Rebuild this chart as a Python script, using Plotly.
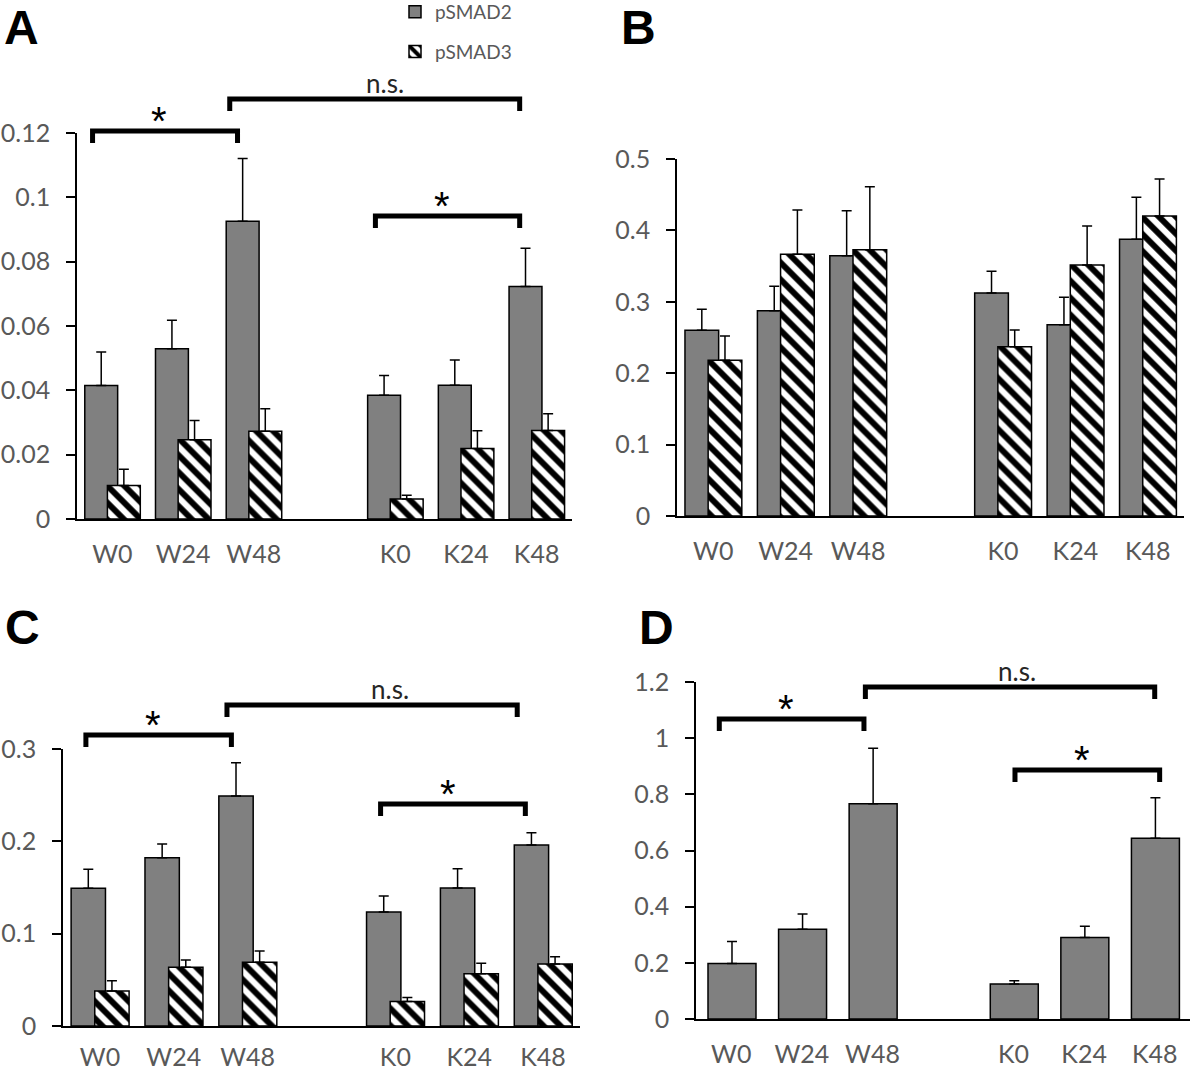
import plotly.graph_objects as go

W, H = 1200, 1073

# ---------------- data ----------------
categories = ["W0", "W24", "W48", "K0", "K24", "K48"]
x_pos = [0, 1, 2, 4, 5, 6]          # one empty slot between the W and K groups
series_names = ["pSMAD2", "pSMAD3"]

# Panel A
a_psmad2 = [0.0415, 0.0529, 0.0926, 0.0385, 0.0416, 0.0723]
a_psmad2_err = [0.0104, 0.0089, 0.0195, 0.0061, 0.0078, 0.0119]
a_psmad3 = [0.0104, 0.0246, 0.0273, 0.0062, 0.0219, 0.0275]
a_psmad3_err = [0.0051, 0.0060, 0.0070, 0.0012, 0.0055, 0.0052]

# Panel B
b_psmad2 = [0.260, 0.2876, 0.3646, 0.3123, 0.268, 0.3875]
b_psmad2_err = [0.0294, 0.0341, 0.0630, 0.0304, 0.0383, 0.0588]
b_psmad3 = [0.218, 0.3665, 0.373, 0.2372, 0.3515, 0.420]
b_psmad3_err = [0.0340, 0.0621, 0.0883, 0.0233, 0.0547, 0.0520]

# Panel C
c_psmad2 = [0.1491, 0.1823, 0.2491, 0.1235, 0.1495, 0.196]
c_psmad2_err = [0.0206, 0.0148, 0.0361, 0.0173, 0.0209, 0.0134]
c_psmad3 = [0.0379, 0.0635, 0.069, 0.0264, 0.0567, 0.0671]
c_psmad3_err = [0.0112, 0.0080, 0.0122, 0.0046, 0.0112, 0.0080]

# Panel D
d_vals = [0.1978, 0.3198, 0.7664, 0.1244, 0.2902, 0.6432]
d_err = [0.0782, 0.0545, 0.1978, 0.0118, 0.0403, 0.1445]

# tick values
y_ticks_a = [0, 0.02, 0.04, 0.06, 0.08, 0.1, 0.12]
y_ticks_b = [0, 0.1, 0.2, 0.3, 0.4, 0.5]
y_ticks_c = [0, 0.1, 0.2, 0.3]
y_ticks_d = [0, 0.2, 0.4, 0.6, 0.8, 1.0, 1.2]

# significance brackets: (left x, right x, bracket height, label, label x)
brackets_a = [(-0.28, 1.77, 0.1206, "*", 0.66),
              (1.66, 5.76, 0.1306, "n.s.", 3.85),
              (3.72, 5.76, 0.0942, "*", 4.66)]
brackets_c = [(-0.19, 1.78, 0.3152, "*", 0.72),
              (1.72, 5.65, 0.3477, "n.s.", 3.93),
              (3.80, 5.76, 0.2404, "*", 4.71)]
brackets_d = [(-0.17, 1.88, 1.0684, "*", 0.78),
              (1.90, 6.00, 1.1823, "n.s.", 4.05),
              (4.02, 6.07, 0.8868, "*", 4.97)]

# ---------------- layout geometry (pixels) ----------------
geom = {
    "A": dict(x0=77, x1=572, yb=519, yt=133, ymax=0.12, ax="", letter_xy=(21.5, 28), xstand=12),
    "B": dict(x0=677, x1=1184, yb=516, yt=159, ymax=0.5, ax="2", letter_xy=(638, 28), xstand=12),
    "C": dict(x0=63, x1=580, yb=1026, yt=749, ymax=0.3, ax="3", letter_xy=(22, 627), xstand=8),
    "D": dict(x0=696, x1=1190, yb=1019, yt=682, ymax=1.2, ax="4", letter_xy=(656, 627), xstand=12),
}

GRAY = "#808080"
TXT = "#595959"
FONT = "Lato"


def to_px(p, xv, yv):
    g = geom[p]
    px = g["x0"] + (xv + 0.5) / 7.0 * (g["x1"] - g["x0"])
    py = g["yb"] - yv / g["ymax"] * (g["yb"] - g["yt"])
    return px, py


def pp(px, py):
    return px / W, 1 - py / H


fig = go.Figure()


def add_bar(p, vals, errs, name, hatched, width, offset, showlegend):
    ax = geom[p]["ax"]
    if hatched:
        marker = dict(color="white", line=dict(color="black", width=1.5),
                      pattern=dict(shape="\\", fgcolor="black", bgcolor="white",
                                   size=12, solidity=0.5, fillmode="replace"))
    else:
        marker = dict(color=GRAY, line=dict(color="black", width=1.5))
    fig.add_trace(go.Bar(
        x=x_pos, y=vals, width=width, offset=offset, name=name, marker=marker,
        error_y=dict(type="data", array=errs, arrayminus=[0] * len(errs), symmetric=False,
                     color="black", thickness=1.5, width=5),
        xaxis="x" + ax, yaxis="y" + ax, showlegend=showlegend, legendgroup=name,
        hoverinfo="skip"))


BW = 0.465
add_bar("A", a_psmad2, a_psmad2_err, series_names[0], False, BW, -0.39, True)
add_bar("A", a_psmad3, a_psmad3_err, series_names[1], True, BW, -0.07, True)
add_bar("B", b_psmad2, b_psmad2_err, series_names[0], False, BW, -0.39, False)
add_bar("B", b_psmad3, b_psmad3_err, series_names[1], True, BW, -0.07, False)
add_bar("C", c_psmad2, c_psmad2_err, series_names[0], False, BW, -0.39, False)
add_bar("C", c_psmad3, c_psmad3_err, series_names[1], True, BW, -0.07, False)
add_bar("D", d_vals, d_err, series_names[0], False, 0.68, -0.33, False)

ticks = {"A": y_ticks_a, "B": y_ticks_b, "C": y_ticks_c, "D": y_ticks_d}

layout = dict(
    width=W, height=H, margin=dict(l=0, r=0, t=0, b=0, autoexpand=False),
    paper_bgcolor="white", plot_bgcolor="rgba(0,0,0,0)",
    barmode="overlay", template="none",
    font=dict(family=FONT, color=TXT),
    showlegend=True,
    legend=dict(x=395 / W, y=1 + 7 / H, xanchor="left", yanchor="top",
                font=dict(family=FONT, size=19, color=TXT), tracegroupgap=12,
                bgcolor="rgba(0,0,0,0)", itemwidth=30),
)

for p, g in geom.items():
    ax = g["ax"]
    xd = [g["x0"] / W, g["x1"] / W]
    yd = [1 - g["yb"] / H, 1 - g["yt"] / H]
    layout["xaxis" + ax] = dict(
        domain=xd, range=[-0.5, 6.5], anchor="y" + ax, showgrid=False, zeroline=False,
        showline=True, linecolor="black", linewidth=1.5, ticks="",
        tickvals=x_pos, ticktext=categories, automargin=False,
        tickfont=dict(family=FONT, size=25, color=TXT), ticklabelstandoff=g["xstand"])
    layout["yaxis" + ax] = dict(
        domain=yd, range=[0, g["ymax"]], anchor="x" + ax, showgrid=False, zeroline=False,
        showline=True, linecolor="black", linewidth=1.5, ticks="outside", ticklen=9,
        tickwidth=1.5, tickcolor="black", tickvals=ticks[p],
        ticktext=[("%g" % v) for v in ticks[p]], automargin=False,
        tickfont=dict(family=FONT, size=25, color=TXT), ticklabelstandoff=11)

fig.update_layout(**layout)

# panel letters
for p, g in geom.items():
    lx, ly = g["letter_xy"]
    x, y = pp(lx, ly)
    fig.add_annotation(text="<b>%s</b>" % p, x=x, y=y, xref="paper", yref="paper",
                       xanchor="center", yanchor="middle", showarrow=False,
                       font=dict(family="Liberation Sans", size=48, color="black"))

# brackets
LEG = 12
for p, blist in (("A", brackets_a), ("C", brackets_c), ("D", brackets_d)):
    for xl, xr, yv, label, lx in blist:
        x0, ytop = to_px(p, xl, yv)
        x1, _ = to_px(p, xr, yv)
        a0, b0 = pp(x0, ytop + LEG)
        a1, b1 = pp(x0, ytop)
        a2, _ = pp(x1, ytop)
        fig.add_shape(type="path", xref="paper", yref="paper",
                      path="M %f,%f L %f,%f L %f,%f L %f,%f" % (a0, b0, a1, b1, a2, b1, a2, b0),
                      line=dict(color="black", width=5))
        tx, _ = to_px(p, lx, yv)
        if label == "*":
            ax_, ay_ = pp(tx, ytop - 19 + 9)
            fig.add_annotation(text="*", x=ax_, y=ay_, xref="paper", yref="paper",
                               xanchor="center", yanchor="middle", showarrow=False,
                               font=dict(family="Liberation Sans", size=40, color="black"))
        else:
            ax_, ay_ = pp(tx, ytop - 16)
            fig.add_annotation(text=label, x=ax_, y=ay_, xref="paper", yref="paper",
                               xanchor="center", yanchor="middle", showarrow=False,
                               font=dict(family=FONT, size=26, color="#262626"))

fig.write_html("out.html", config={"displayModeBar": False},
               post_script="document.body.style.margin='0';")
